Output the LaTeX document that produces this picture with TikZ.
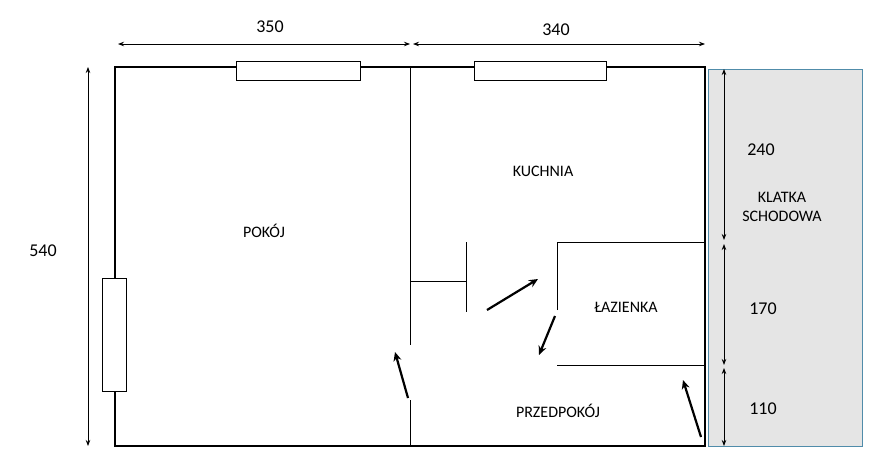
\documentclass[tikz,border=0pt]{standalone}
\usepackage{fontspec}
\setmainfont{Carlito}
\usetikzlibrary{arrows.meta}
\begin{document}
\begin{tikzpicture}[x=1pt,y=-1pt,
  wall/.style={line width=2.5pt},
  thin/.style={line width=0.8pt},
  win/.style={draw,line width=0.8pt,fill=white},
  dim/.style={thin,{Stealth[length=6pt]}-{Stealth[length=6pt]}},
  mv/.style={line width=2.2pt,-{Stealth[length=9pt,width=8pt]}},
  lbl/.style={font=\fontsize{16}{19}\selectfont},
  num/.style={font=\fontsize{18}{21}\selectfont}]
\useasboundingbox (0,0) rectangle (887,472);
\fill[gray!20] (708,69) rectangle (862,446);
\draw[draw={rgb,255:red,80;green,140;blue,170},line width=0.6pt] (708,69) rectangle (862,446);
\draw[wall] (115,67) rectangle (705,446);
\draw[win] (236,61) rectangle (360,80);
\draw[win] (474,61) rectangle (606,80);
\draw[win] (102,278) rectangle (126,391);
\coordinate (w1) at (410,67); \coordinate (w2) at (410,345);
\coordinate (w3) at (410,400); \coordinate (w4) at (410,446);
\draw[thin] (w1) -- (w2); \draw[thin] (w3) -- (w4);
\draw[thin] (410,281) -- (466,281);
\draw[thin] (466,242) -- (466,312);
\draw[thin] (557,310) -- (557,242) -- (705,242);
\draw[thin] (557,365) -- (705,365);
\coordinate (a1) at (408,398); \coordinate (b1) at (395,352);
\draw[mv] (a1) -- (b1);
\coordinate (a2) at (487,310); \coordinate (b2) at (538,279);
\draw[mv] (a2) -- (b2);
\coordinate (a3) at (555,316); \coordinate (b3) at (539,355);
\draw[mv] (a3) -- (b3);
\coordinate (a4) at (701,437); \coordinate (b4) at (683,380);
\draw[mv] (a4) -- (b4);
\coordinate (d1) at (118,44); \coordinate (d2) at (410,44); \coordinate (d3) at (413,44); \coordinate (d4) at (705,44);
\draw[dim] (d1) -- (d2); \draw[dim] (d3) -- (d4);
\coordinate (v1) at (88,67); \coordinate (v2) at (88,446);
\draw[dim] (v1) -- (v2);
\coordinate (r1) at (724,69); \coordinate (r2) at (724,240); \coordinate (r3) at (724,244);
\coordinate (r4) at (724,365); \coordinate (r5) at (724,368); \coordinate (r6) at (724,446);
\draw[dim] (r1) -- (r2); \draw[dim] (r3) -- (r4); \draw[dim] (r5) -- (r6);
\node[num] (t350) at (270,27) {350};
\node[num] (t340) at (556,30) {340};
\node[num] (t540) at (43,251) {540};
\node[num] (t240) at (761,150) {240};
\node[num] (t170) at (763,309) {170};
\node[num] (t110) at (763,409) {110};
\node[lbl] (pokoj) at (264,231) {POKÓJ};
\node[lbl] (kuch) at (543,171) {KUCHNIA};
\node[lbl] (laz) at (626,307) {ŁAZIENKA};
\node[lbl] (przed) at (558,411) {PRZEDPOKÓJ};
\node[lbl,align=center] (klatka) at (782,207) {KLATKA\\SCHODOWA};
\end{tikzpicture}
\end{document}
